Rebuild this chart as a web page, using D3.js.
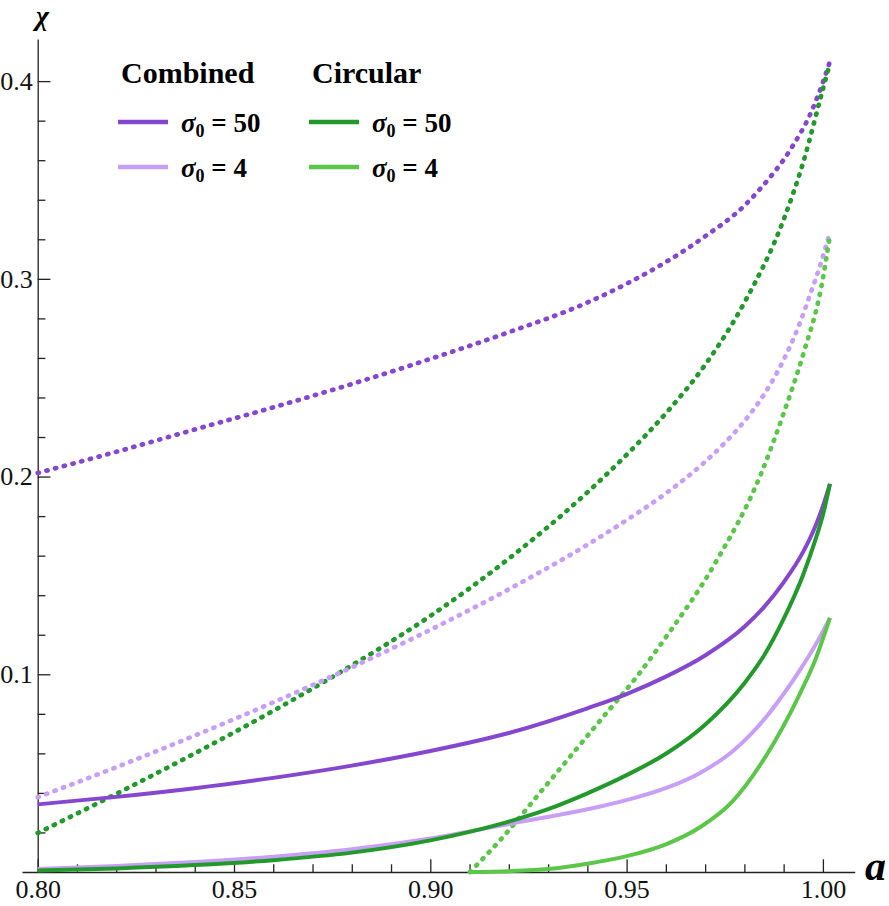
<!DOCTYPE html>
<html>
<head>
<meta charset="utf-8">
<script src="https://cdn.jsdelivr.net/npm/d3@7"></script>
<style>
  body { margin: 0; background: #fff; }
  svg text { font-family: "Liberation Serif", "Times New Roman", serif; }
  .axis path, .axis line { stroke: #222; stroke-width: 1.3; }
</style>
</head>
<body>
<div class="chart"></div>
<script>
// ticks
const xMajor = [0.80, 0.85, 0.90, 0.95, 1.00];
const xMinor = [0.81, 0.82, 0.83, 0.84, 0.86, 0.87, 0.88, 0.89, 0.91, 0.92, 0.93, 0.94, 0.96, 0.97, 0.98, 0.99];
const yMajor = [0.1, 0.2, 0.3, 0.4];
const yMinor = [0.02, 0.04, 0.06, 0.08, 0.12, 0.14, 0.16, 0.18, 0.22, 0.24, 0.26, 0.28, 0.32, 0.34, 0.36, 0.38];

// legend
const legendGroups = ["Combined", "Circular"];
const legendSigma = ["50", "4"];

// series [a, chi] -- solid lines
const combined50 = [[0.80,0.0342],[0.82,0.0380],[0.84,0.0424],[0.86,0.0476],[0.88,0.0538],[0.90,0.0612],
  [0.92,0.0703],[0.94,0.0828],[0.95,0.0900],[0.96,0.0988],[0.97,0.1095],[0.98,0.1240],[0.985,0.1340],
  [0.99,0.1465],[0.995,0.1620],[0.998,0.1745],[1.0,0.1850],[1.0018,0.1963]];
const combined4 = [[0.80,0.0015],[0.82,0.0030],[0.84,0.0050],[0.86,0.0077],[0.88,0.0115],[0.90,0.0170],
  [0.92,0.0243],[0.943,0.0330],[0.9516,0.0372],[0.9601,0.0425],[0.9686,0.0500],[0.9771,0.0612],
  [0.9813,0.0690],[0.9856,0.0785],[0.9898,0.0895],[0.9941,0.1020],[0.9983,0.1155],[1.0018,0.1285]];
const circular50 = [[0.80,0.0008],[0.82,0.0018],[0.84,0.0035],[0.86,0.0060],[0.88,0.0098],[0.90,0.0160],
  [0.91,0.0203],[0.92,0.0255],[0.93,0.0318],[0.94,0.0398],[0.95,0.0490],[0.96,0.0598],[0.97,0.0745],
  [0.98,0.0955],[0.985,0.1095],[0.99,0.1280],[0.995,0.1505],[0.998,0.1675],[1.0,0.1805],[1.0018,0.1963]];
const circular4 = [[0.9101,0.0],[0.92,0.0004],[0.93,0.0015],[0.94,0.0042],[0.95,0.0080],[0.96,0.0140],
  [0.9686,0.0225],[0.9771,0.0360],[0.9856,0.0590],[0.9941,0.0900],[0.998,0.1070],[1.0018,0.1285]];

// series [a, chi] -- dotted lines
const combined50Dot = [[0.80,0.2018],[0.82,0.2125],[0.84,0.2238],[0.86,0.2350],[0.88,0.2468],[0.90,0.2595],
  [0.92,0.2730],[0.94,0.2880],[0.95,0.2975],[0.96,0.3085],[0.97,0.3215],[0.98,0.3370],[0.9838,0.3450],
  [0.9924,0.3675],[0.9966,0.3825],[0.9991,0.3945],[1.0018,0.4100]];
const combined4Dot = [[0.80,0.0378],[0.82,0.0530],[0.84,0.0690],[0.86,0.0858],[0.88,0.1035],[0.90,0.1225],
  [0.92,0.1430],[0.94,0.1655],[0.95,0.1780],[0.96,0.1915],[0.97,0.2075],[0.975,0.2170],[0.98,0.2280],
  [0.985,0.2415],[0.99,0.2590],[0.994,0.2770],[0.997,0.2935],[0.9991,0.3055],[1.0004,0.3140],[1.0018,0.3234]];
const circular50Dot = [[0.80,0.0197],[0.82,0.0395],[0.84,0.0600],[0.86,0.0815],[0.88,0.1045],[0.90,0.1295],
  [0.92,0.1585],[0.94,0.1920],[0.95,0.2110],[0.96,0.2320],[0.97,0.2565],[0.98,0.2880],[0.99,0.3300],
  [0.995,0.3590],[1.0,0.3960],[1.0018,0.4090]];
const circular4Dot = [[0.9101,0.0],[0.9186,0.0179],[0.9271,0.0381],[0.9356,0.0583],[0.9441,0.0786],
  [0.9526,0.0988],[0.9601,0.1190],[0.9725,0.1560],[0.9843,0.2017],[0.99,0.2320],[0.995,0.2620],
  [0.9996,0.2960],[1.0018,0.3220]];

const purple = "#8547ce", lightPurple = "#c89ff7", green = "#23992c", lightGreen = "#5cc64a";

const series = [
  { data: combined50Dot, color: purple, dot: true },
  { data: circular50Dot, color: green, dot: true },
  { data: combined4Dot, color: lightPurple, dot: true },
  { data: circular4Dot, color: lightGreen, dot: true },
  { data: combined50, color: purple, dot: false },
  { data: combined4, color: lightPurple, dot: false },
  { data: circular50, color: green, dot: false },
  { data: circular4, color: lightGreen, dot: false }
];

var width = 889, height = 906;
var serif = "'Liberation Serif', 'DejaVu Serif', serif";

var svg = d3.select(".chart").append("svg")
  .attr("width", width)
  .attr("height", height);

// scales (axis lines run a bit past the data range)
var x = d3.scaleLinear().domain([0.796, 1.0081]).range([22, 854.7]);
var y = d3.scaleLinear().domain([0, 0.4213]).range([872, 39]);

// axe X
svg.append("g")
  .attr("class", "axis")
  .attr("transform", "translate(0,872)")
  .call(d3.axisBottom(x).tickValues(xMajor).tickSizeInner(-12.7).tickSizeOuter(0)
    .tickPadding(8).tickFormat(d3.format(".2f")));

svg.append("g")
  .attr("class", "axis minor")
  .attr("transform", "translate(0,872)")
  .call(d3.axisBottom(x).tickValues(xMinor).tickSizeInner(-7.7).tickSizeOuter(0).tickFormat(""))
  .select(".domain").remove();

// axe Y
svg.append("g")
  .attr("class", "axis")
  .attr("transform", "translate(" + x(0.80) + ",0)")
  .call(d3.axisLeft(y).tickValues(yMajor).tickSizeInner(-12.7).tickSizeOuter(0)
    .tickPadding(5).tickFormat(d3.format(".1f")));

svg.append("g")
  .attr("class", "axis minor")
  .attr("transform", "translate(" + x(0.80) + ",0)")
  .call(d3.axisLeft(y).tickValues(yMinor).tickSizeInner(-7.7).tickSizeOuter(0).tickFormat(""))
  .select(".domain").remove();

svg.selectAll(".axis").attr("font-family", null);
svg.selectAll(".axis text")
  .style("font-family", serif)
  .style("font-size", "26px")
  .style("fill", "#111");

// courbes
var line = d3.line()
  .curve(d3.curveMonotoneX)
  .x(function(d) { return x(d[0]); })
  .y(function(d) { return y(d[1]); });

svg.selectAll(".curve")
  .data(series)
  .enter().append("path")
  .attr("class", "curve")
  .attr("d", function(d) { return line(d.data); })
  .attr("fill", "none")
  .attr("stroke", function(d) { return d.color; })
  .attr("stroke-width", function(d) { return d.dot ? 4.7 : 4; })
  .attr("stroke-linecap", function(d) { return d.dot ? "round" : "butt"; })
  .attr("stroke-dasharray", function(d) { return d.dot ? "1.2 7.8" : null; });

// titres des axes
svg.append("text")
  .attr("x", 36).attr("y", 25)
  .style("font-family", serif)
  .attr("font-size", 28).attr("font-weight", "bold").attr("font-style", "italic")
  .text("χ");

svg.append("text")
  .attr("x", 865).attr("y", 880)
  .style("font-family", serif)
  .attr("font-size", 42).attr("font-weight", "bold").attr("font-style", "italic")
  .text("a");

// légende
var legendColors = [[purple, lightPurple], [green, lightGreen]];
var colX = [121, 312];

legendGroups.forEach(function(name, i) {
  svg.append("text")
    .attr("x", colX[i]).attr("y", 83)
    .style("font-family", serif)
    .attr("font-size", 30).attr("font-weight", "bold")
    .text(name);

  legendSigma.forEach(function(s, j) {
    var ly = 122 + j * 45;
    svg.append("line")
      .attr("x1", colX[i] - 3).attr("x2", colX[i] + 47)
      .attr("y1", ly).attr("y2", ly)
      .attr("stroke", legendColors[i][j])
      .attr("stroke-width", 4.5);

    var t = svg.append("text")
      .attr("x", colX[i] + 60).attr("y", ly + 10)
      .style("font-family", serif)
      .attr("font-size", 27).attr("font-weight", "bold");
    t.append("tspan").attr("font-style", "italic").text("σ");
    t.append("tspan").attr("font-size", 18).attr("dy", 5).text("0");
    t.append("tspan").attr("dy", -5).text(" = " + s);
  });
});
</script>
</body>
</html>
